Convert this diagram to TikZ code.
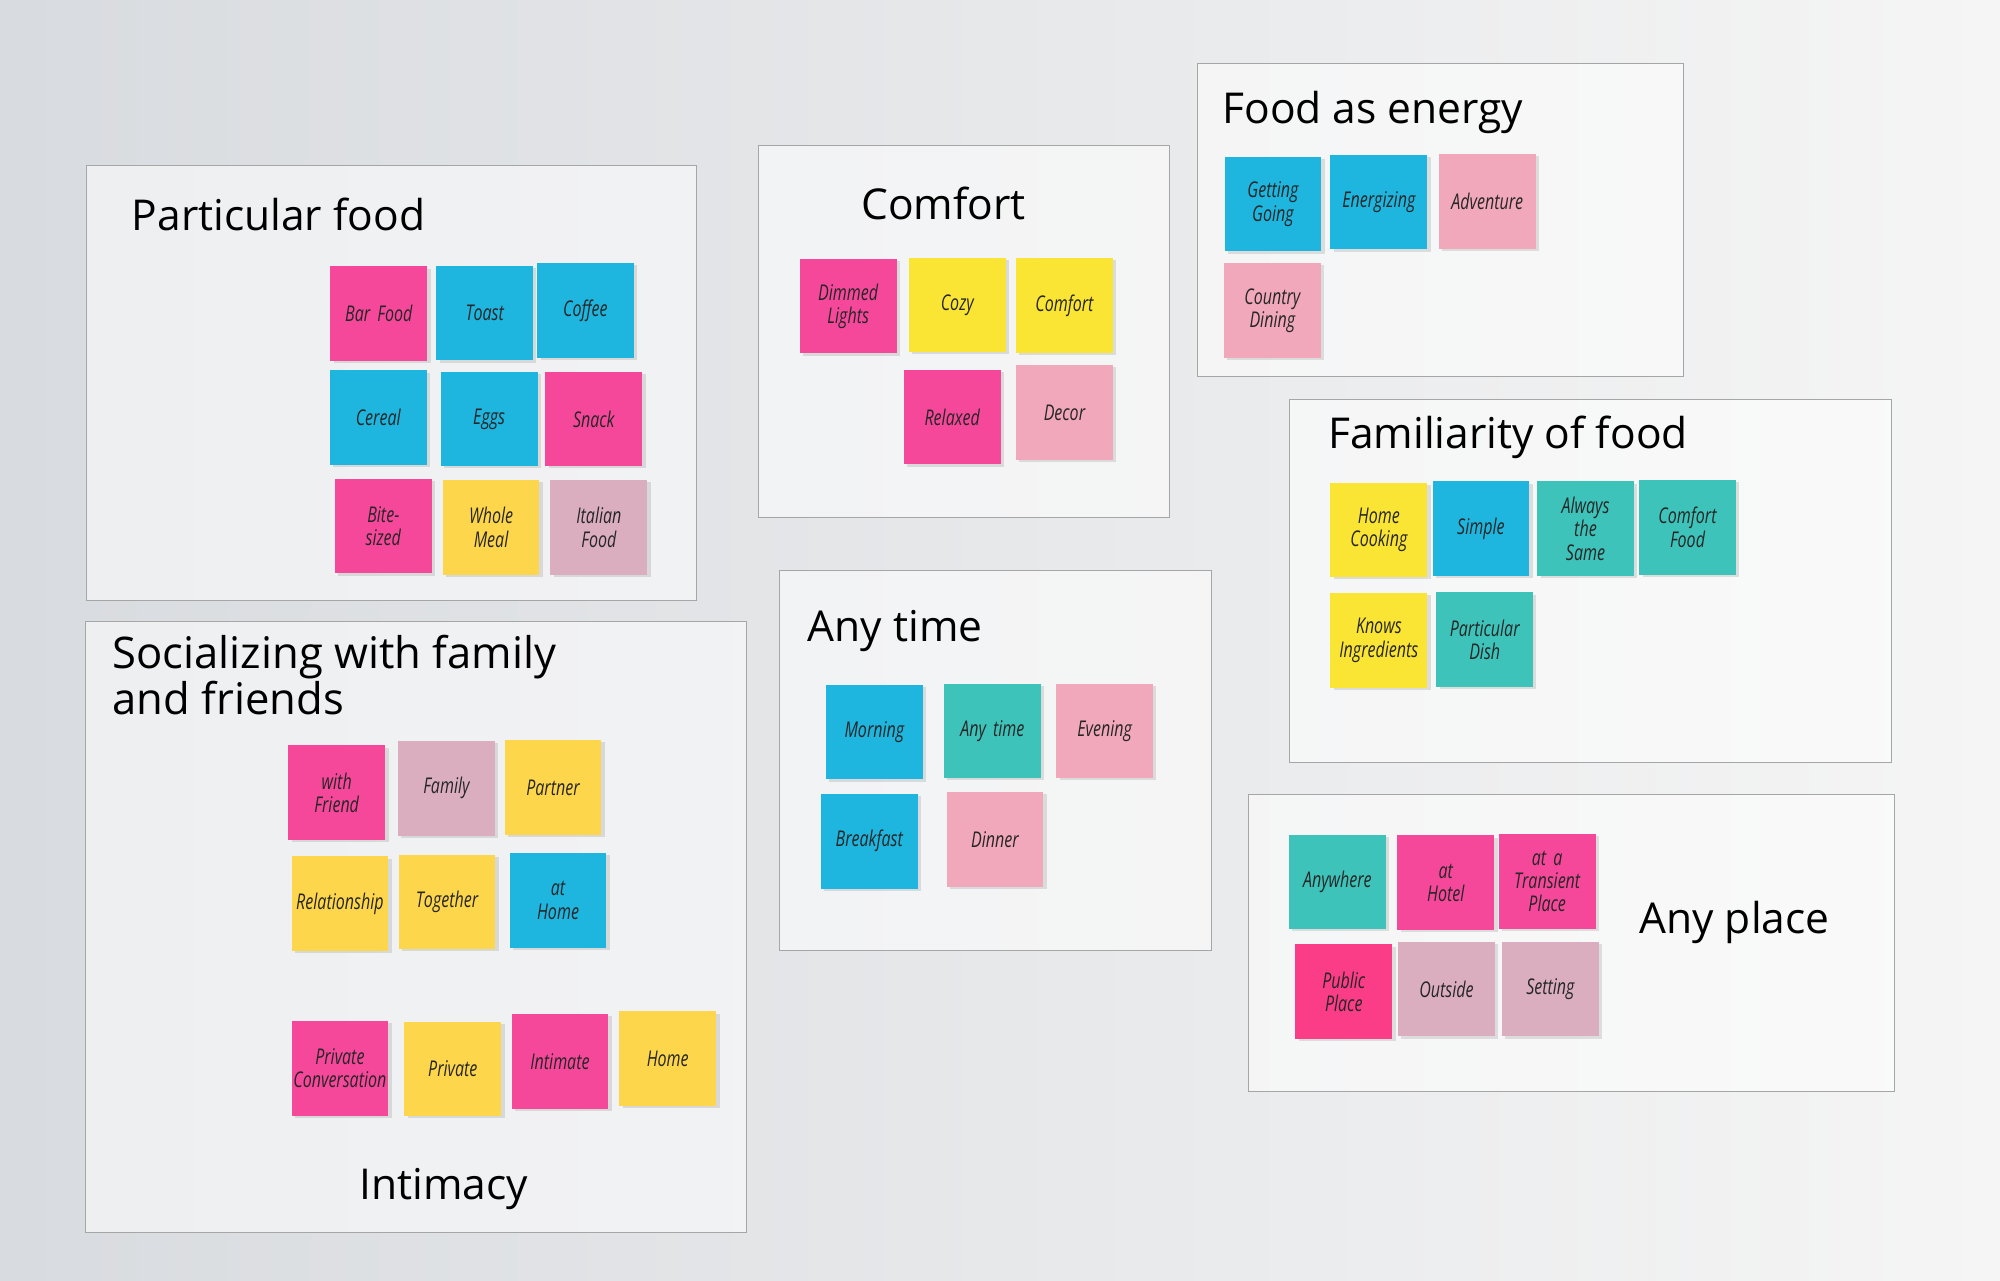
\documentclass[tikz,border=0pt]{standalone}
\usepackage{fontspec}
\setmainfont{Open Sans}
\newfontfamily\handfont[FakeStretch=0.74]{Open Sans}
\usetikzlibrary{positioning,shadows}
\newcommand{\tightlines}{\lineskiplimit=-20pt\relax}

\definecolor{wallL}{HTML}{D8DBDF}
\definecolor{wallR}{HTML}{F5F5F5}
\definecolor{notepink}{HTML}{F5489A}
\definecolor{notehot}{HTML}{FB3C86}
\definecolor{noteblue}{HTML}{1EB5DF}
\definecolor{noteyellow}{HTML}{FAE535}
\definecolor{noteamber}{HTML}{FDD64C}
\definecolor{noterose}{HTML}{F1A8BA}
\definecolor{notemauve}{HTML}{DAAEBF}
\definecolor{noteteal}{HTML}{3DC3B9}

\tikzset{
	frame/.style={draw=black!35, line width=0.5pt, fill=white, fill opacity=0.55},
	title/.style={anchor=base west, inner sep=0pt, font=\fontsize{20}{24}\selectfont, text=black},
	sticky/.style={minimum width=45.5pt, minimum height=44.5pt, inner sep=0.5pt, text width=44pt, align=center,
		font=\handfont\itshape\fontsize{10.2}{11}\selectfont, text=black!85,
		drop shadow={shadow xshift=1.6pt, shadow yshift=-1pt, opacity=0.22}},
}

\begin{document}
\begin{tikzpicture}[x=0.6pt, y=-0.6pt]
	\useasboundingbox (0,0) rectangle (1568,1004);
	\shade[left color=wallL, right color=wallR] (0,0) rectangle (1568,1004);
	
	% groups
	\draw[frame] (68,130) rectangle (546,471);
	\draw[frame] (595,114) rectangle (917,406);
	\draw[frame] (939,50) rectangle (1320,295);
	\draw[frame] (1011,313) rectangle (1483,598);
	\draw[frame] (67,487) rectangle (585,966);
	\draw[frame] (611,447) rectangle (950,745);
	\draw[frame] (979,623) rectangle (1485,856);
	
	% particular food
	\node[title] (tfood) at (103,181) {Particular food};
	\node[sticky, fill=notepink] (barfood) at (297,246) {Bar Food};
	\node[sticky, fill=noteblue] (toast) at (380,245.5) {Toast};
	\node[sticky, fill=noteblue] (coffee) at (459,243.5) {Coffee};
	\node[sticky, fill=noteblue] (cereal) at (296.5,327.5) {Cereal};
	\node[sticky, fill=noteblue] (eggs) at (383.5,328.5) {Eggs};
	\node[sticky, fill=notepink] (snack) at (465.5,328.5) {Snack};
	\node[sticky, fill=notepink] (bite) at (300.5,412.5) {Bite-\\sized};
	\node[sticky, fill=noteamber] (whole) at (385,413.5) {Whole\\Meal};
	\node[sticky, fill=notemauve] (italian) at (469.5,413.5) {Italian\\Food};
	
	% comfort
	\node[title] (tcomfort) at (675,172) {Comfort};
	\node[sticky, fill=notepink] (dimmed) at (665,240) {Dimmed\\Lights};
	\node[sticky, fill=noteyellow] (cozy) at (750.5,239) {Cozy};
	\node[sticky, fill=noteyellow] (comf) at (834.5,239.5) {Comfort};
	\node[sticky, fill=notepink] (relaxed) at (746.5,327) {Relaxed};
	\node[sticky, fill=noterose] (decor) at (834.5,323.5) {Decor};
	
	% food as energy
	\node[title] (tenergy) at (958,97) {Food as energy};
	\node[sticky, fill=noteblue] (getting) at (998,160) {Getting\\Going};
	\node[sticky, fill=noteblue] (energ) at (1081,158.5) {Energizing};
	\node[sticky, fill=noterose] (adv) at (1166,158) {Adventure};
	\node[sticky, fill=noterose] (country) at (997.5,243.5) {Country\\Dining};
	
	% familiarity of food
	\node[title] (tfamil) at (1041,352) {Familiarity of food};
	\node[sticky, fill=noteyellow] (homecook) at (1081,415.5) {Home\\Cooking};
	\node[sticky, fill=noteblue] (simple) at (1161,414.5) {Simple};
	\node[sticky, fill=noteteal] (always) at (1243,414.5) {Always\\the\\Same};
	\node[sticky, fill=noteteal] (comffood) at (1323,413.5) {Comfort\\Food};
	\node[sticky, fill=noteyellow] (knows) at (1081,502) {Knows\\Ingredients};
	\node[sticky, fill=noteteal] (dish) at (1164,501.5) {Particular\\Dish};
	
	% socializing
	\node[title, align=left, font={\fontsize{20.5}{21.5}\selectfont\tightlines}] (tsocial) at (88,560) {Socializing with family\\and friends};
	\node[sticky, fill=notepink] (friend) at (264,621.5) {with\\Friend};
	\node[sticky, fill=notemauve] (family) at (350,618) {Family};
	\node[sticky, fill=noteamber] (partner) at (433.5,617.5) {Partner};
	\node[sticky, fill=noteamber] (relation) at (266.5,708.5) {Relationship};
	\node[sticky, fill=noteamber] (together) at (350.5,707) {Together};
	\node[sticky, fill=noteblue] (athome) at (437.5,706) {at\\Home};
	\node[sticky, fill=notepink] (privconv) at (266.5,837.5) {Private\\Conversation};
	\node[sticky, fill=noteamber] (private) at (355,838) {Private};
	\node[sticky, fill=notepink] (intimate) at (439,832) {Intimate};
	\node[sticky, fill=noteamber] (home) at (523.5,830) {Home};
	\node[title, anchor=base] (tintim) at (348,940) {Intimacy};
	
	% any time
	\node[title] (ttime) at (633,503) {Any time};
	\node[sticky, fill=noteblue] (morning) at (685.5,574) {Morning};
	\node[sticky, fill=noteteal] (anytime) at (778,573) {Any time};
	\node[sticky, fill=noterose] (evening) at (866,573) {Evening};
	\node[sticky, fill=noteblue] (breakfast) at (681.5,659.5) {Breakfast};
	\node[sticky, fill=noterose] (dinner) at (780,658) {Dinner};
	
	% any place
	\node[title] (tplace) at (1285,732) {Any place};
	\node[sticky, fill=noteteal] (anywhere) at (1048.5,691.5) {Anywhere};
	\node[sticky, fill=notepink] (hotel) at (1133.5,692) {at\\Hotel};
	\node[sticky, fill=notepink] (transient) at (1213,691) {at a\\Transient\\Place};
	\node[sticky, fill=notehot] (public) at (1053.5,777.5) {Public\\Place};
	\node[sticky, fill=notemauve] (outside) at (1134,775.5) {Outside};
	\node[sticky, fill=notemauve] (setting) at (1215.5,775.5) {Setting};
\end{tikzpicture}
\end{document}
